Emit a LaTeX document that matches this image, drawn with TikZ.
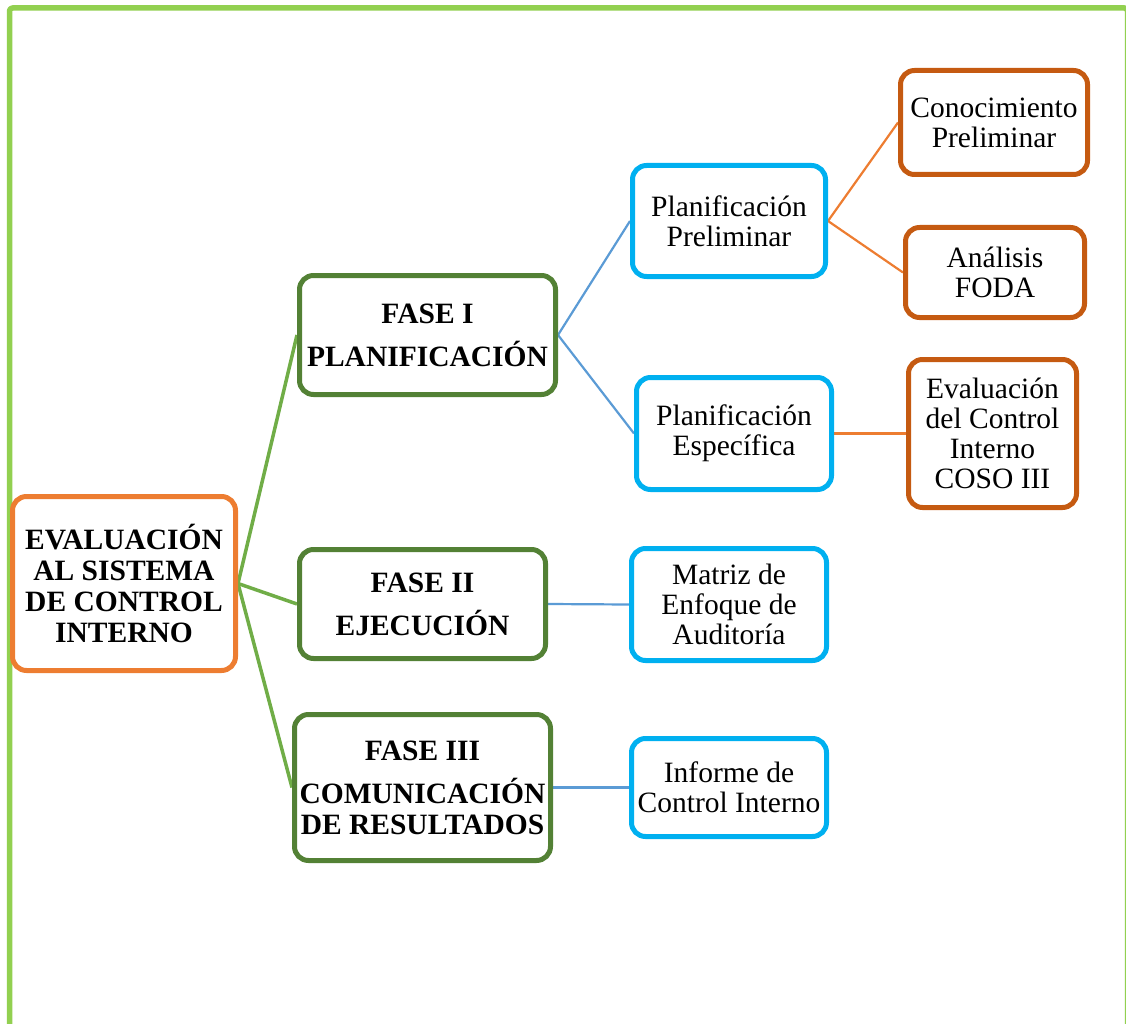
\documentclass[tikz,border=0pt]{standalone}
\usepackage{fontspec}
\setmainfont{Liberation Serif}
\usetikzlibrary{backgrounds}
\definecolor{marco}{HTML}{92D050}
\definecolor{naranja}{HTML}{ED7D31}
\definecolor{verdeosc}{HTML}{538135}
\definecolor{verde}{HTML}{70AD47}
\definecolor{celeste}{HTML}{00B0F0}
\definecolor{azul}{HTML}{5B9BD5}
\definecolor{ladrillo}{HTML}{C55A11}

\begin{document}
\begin{tikzpicture}[x=1pt,y=-1pt,line cap=round,line join=round,
	caja/.style={draw,rounded corners=14pt,line width=5pt,align=center,inner sep=0pt,font=\fontsize{29.5}{30}\selectfont},
	raiz/.style={caja,draw=naranja,font=\bfseries\fontsize{29.5}{31}\selectfont},
	fase/.style={caja,draw=verdeosc,font=\bfseries\fontsize{29.5}{31}\selectfont},
	paso/.style={caja,draw=celeste},
	tarea/.style={caja,draw=ladrillo}]
	\clip (0,0) rectangle (1126,1024);
	\draw[marco,line width=5.5pt,rounded corners=3pt] (9.5,8) rectangle (1127.5,1100);

	\node[raiz,minimum width=223,minimum height=174] (eval) at (124,583.5) {EVALUACIÓN\\AL SISTEMA\\DE CONTROL\\INTERNO};

	\node[fase,minimum width=256,minimum height=119] (fase1) at (427.5,335) {FASE I\\[12pt]PLANIFICACIÓN};
	\node[fase,minimum width=246,minimum height=109] (fase2) at (422.5,604) {FASE II\\[12pt]EJECUCIÓN};
	\node[fase,minimum width=256,minimum height=146] (fase3) at (422.5,787.5) {FASE III\\[12pt]COMUNICACIÓN\\DE RESULTADOS};

	\node[paso,minimum width=193,minimum height=111] (prelim) at (729,221) {Planificación\\Preliminar};
	\node[paso,minimum width=195,minimum height=112] (especif) at (734,433.5) {Planificación\\Específica};
	\node[paso,minimum width=195,minimum height=112] (matriz) at (729,604.5) {Matriz de\\Enfoque de\\Auditoría};
	\node[paso,minimum width=195,minimum height=98] (informe) at (729,787.5) {Informe de\\Control Interno};

	\node[tarea,minimum width=187,minimum height=104] (conoc) at (994,122.5) {Conocimiento\\Preliminar};
	\node[tarea,minimum width=179,minimum height=90] (foda) at (995,272.5) {Análisis\\FODA};
	\node[tarea,minimum width=168,minimum height=148] (coso) at (992.5,433.5) {Evaluación\\del Control\\Interno\\COSO III};

	\begin{scope}[on background layer]
	\draw[verde,line width=3.5pt] (eval.east) -- (fase1.west);
	\draw[verde,line width=3.5pt] (eval.east) -- (fase2.west);
	\draw[verde,line width=3.5pt] (eval.east) -- (fase3.west);
	\draw[azul,line width=2.2pt] (fase1.east) -- (prelim.west);
	\draw[azul,line width=2.2pt] (fase1.east) -- (especif.west);
	\draw[azul,line width=2.2pt] (fase2.east) -- (matriz.west);
	\draw[azul,line width=2.2pt] (fase3.east) -- (informe.west);
	\draw[naranja,line width=2.2pt] (prelim.east) -- (conoc.west);
	\draw[naranja,line width=2.2pt] (prelim.east) -- (foda.west);
	\draw[naranja,line width=2.2pt] (especif.east) -- (coso.west);
	\end{scope}
\end{tikzpicture}
\end{document}
